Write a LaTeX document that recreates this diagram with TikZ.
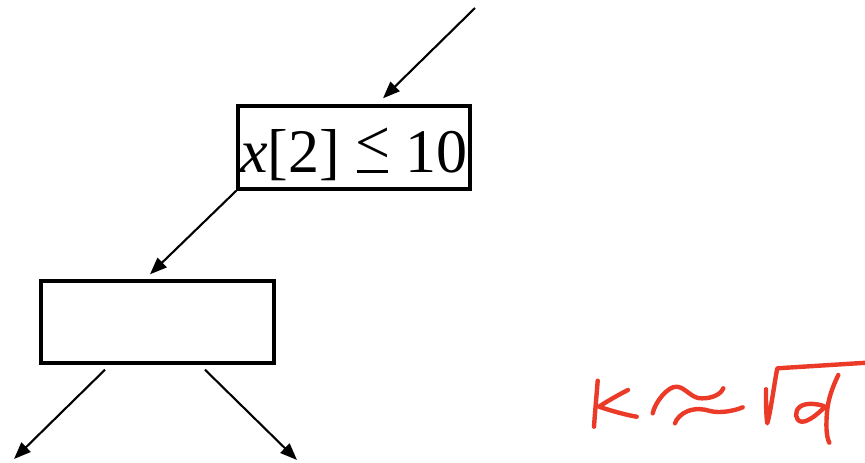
\documentclass[tikz,border=0pt]{standalone}
\usepackage{fontspec}
\setmainfont{Liberation Serif}
\usetikzlibrary{arrows.meta,calc}
\definecolor{ink}{RGB}{236,58,40}
\newcommand{\myleq}{\ooalign{\raisebox{0.13em}{<}\cr\hidewidth\rule[-0.01em]{0.5em}{0.045em}\hidewidth\cr}}
\tikzset{
  box/.style={draw=black, line width=3.4pt, inner sep=0pt, minimum width=232pt},
  arr/.style={draw=black, line width=2.1pt, -{Triangle[length=17pt,width=13pt]}},
  hand/.style={draw=ink, line width=4.4pt, line cap=round, line join=round}
}
\begin{document}
\begin{tikzpicture}[x=1pt,y=-1pt]
\useasboundingbox (0,0) rectangle (865,463);
% nodes
\node[box, text height=66pt, text depth=17pt, font=\fontsize{62}{70}\selectfont] (split) at (354,147.5) {\textit{x}[2] \myleq{} 10};
\node[box, minimum width=233pt, minimum height=82pt] (leaf) at (157.5,322) {};
% free ends
\coordinate (in) at (475,8);
\coordinate (outL) at (14,459);
\coordinate (outR) at (297,460);
% connectors
\draw[arr] (in) -- ([shift={(29pt,6pt)}]split.north);
\draw[arr] (split.south west) -- ([shift={(-7.5pt,5pt)}]leaf.north);
\draw[arr] ([shift={(-52.5pt,-5pt)}]leaf.south) -- (outL);
\draw[arr] ([shift={(47.5pt,-5pt)}]leaf.south) -- (outR);
% handwritten K ~ sqrt d
\draw[hand] (597.7,380.7) .. controls (596.5,396) and (595,412) .. (594,426.7);
\draw[hand] (628,390) .. controls (618,395) and (606,402) .. (599,406.7) .. controls (612,411) and (626,415) .. (636.7,416.7);
\draw[hand] (652.7,413.3) .. controls (655,402) and (668,386) .. (676.7,386.7) .. controls (684,387) and (690,396) .. (698,398) .. controls (708,399.5) and (720,396) .. (723.3,388.3);
\draw[hand] (675,423.3) .. controls (676,419) and (682,413) .. (688,411) .. controls (696,408) and (704,409) .. (710,411) .. controls (720,413.5) and (734,411) .. (742.7,407.3);
\draw[hand] (766,389.3) .. controls (766,402) and (766,415) .. (767.3,423.3) .. controls (771,410) and (774,385) .. (777.3,368.3) -- (866.7,362.7);
\draw[hand] (825,406.7) .. controls (820,404) and (806,402) .. (800,406.7) .. controls (794,411) and (795,421) .. (801.7,421.7) .. controls (808,422) and (818,414) .. (825,406.7);
\draw[hand] (838.3,375) .. controls (832,388) and (828,400) .. (827,412) .. controls (826,424) and (826,436) .. (829.3,442.7);
\end{tikzpicture}
\end{document}
